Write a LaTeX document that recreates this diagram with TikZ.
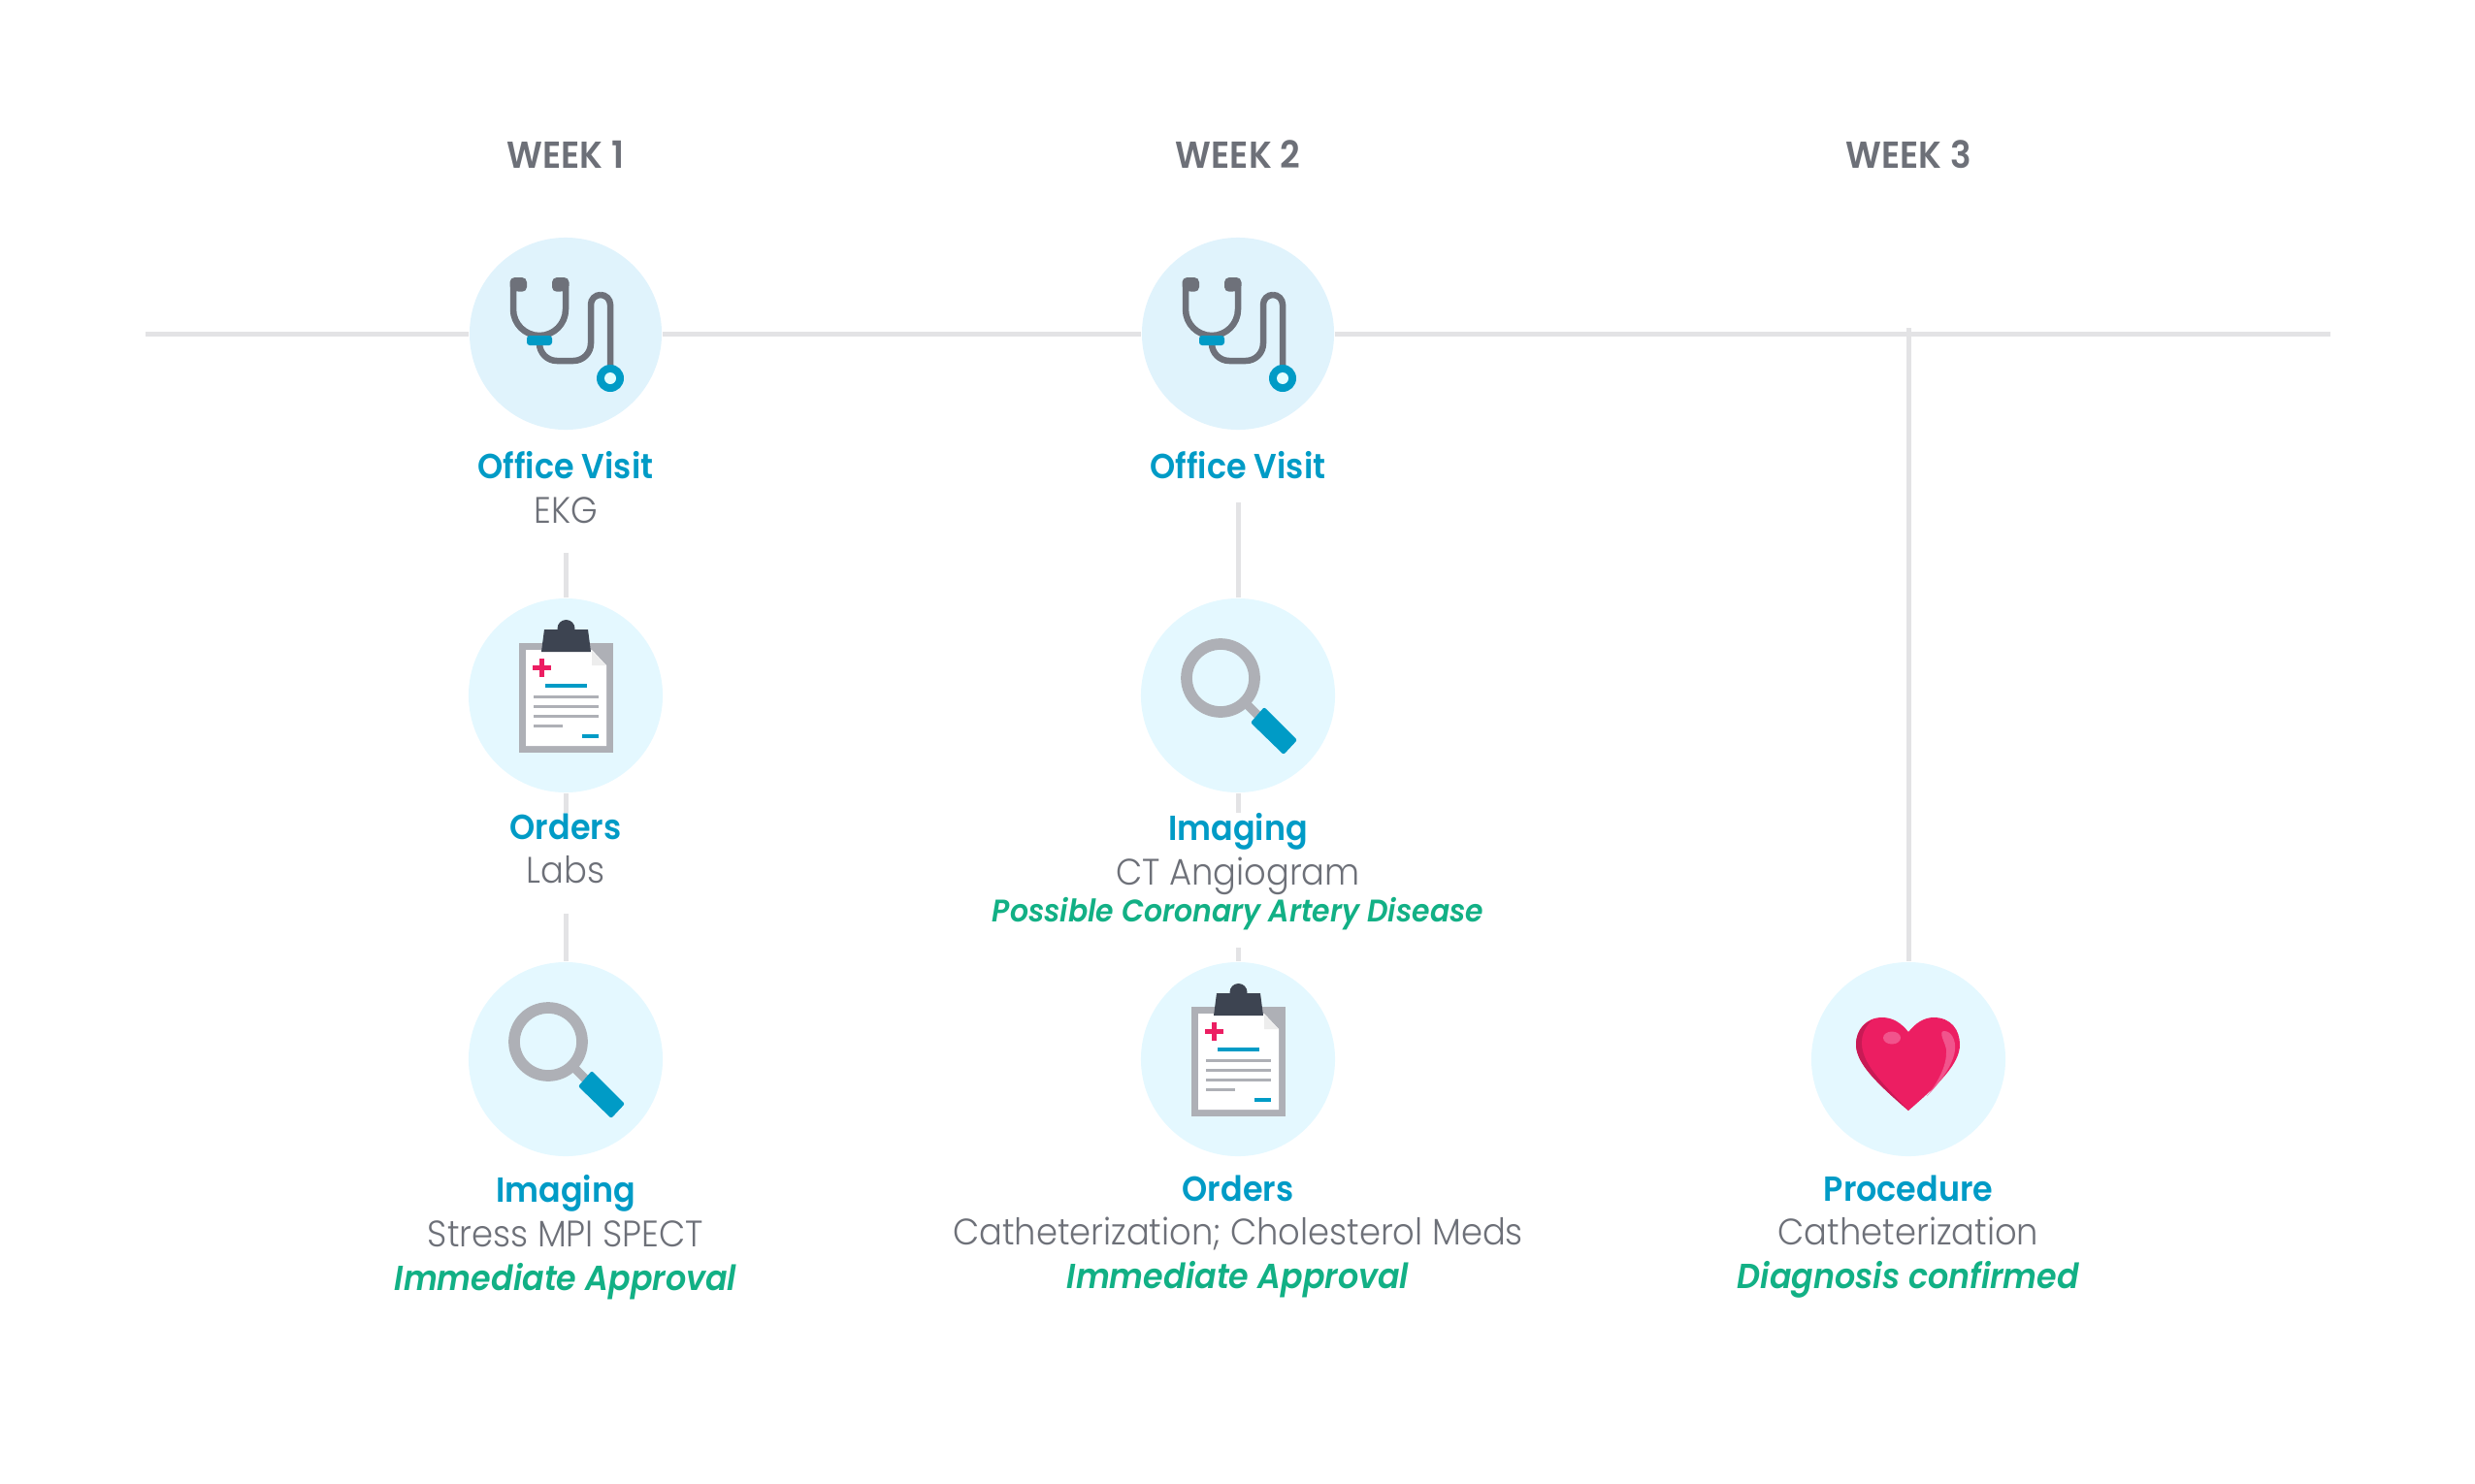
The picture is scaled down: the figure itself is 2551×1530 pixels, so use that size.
\documentclass[tikz,border=0pt]{standalone}
\usepackage{fontspec}
\setmainfont{Poppins Light}[FakeStretch=0.93]
\newfontfamily\headfont{Poppins SemiBold}[FakeStretch=0.93]
\newfontfamily\notefont{Poppins SemiBold}[FakeStretch=0.93,ItalicFont={Poppins SemiBold Italic}]
\definecolor{railgrey}{RGB}{227,227,229}
\definecolor{softblue}{RGB}{224,243,252}
\definecolor{paleblue}{RGB}{228,248,255}
\definecolor{mainblue}{RGB}{0,155,198}
\definecolor{textgrey}{RGB}{109,112,120}
\definecolor{notegreen}{RGB}{18,176,133}
\definecolor{tubegrey}{RGB}{110,113,122}
\definecolor{boardgrey}{RGB}{174,176,182}
\definecolor{clipdark}{RGB}{61,68,81}
\definecolor{heartpink}{RGB}{236,30,98}
\definecolor{heartdark}{RGB}{200,26,85}
\definecolor{heartglow}{RGB}{241,84,140}
\newcommand{\headline}[1]{{\fontsize{10.2pt}{12.9pt}\selectfont\headfont\color{mainblue}\vphantom{d}#1}}
\newcommand{\subline}[1]{{\fontsize{10.8pt}{12.9pt}\selectfont\color{textgrey}#1}}
\newcommand{\noteline}[1]{{\fontsize{10.2pt}{12.9pt}\selectfont\notefont\itshape\color{notegreen}#1}}
\newcommand{\smallnote}[1]{{\fontsize{9.15pt}{12.9pt}\selectfont\notefont\itshape\color{notegreen}#1}}
\begin{document}
\begin{tikzpicture}[
    x=0.01cm, y=-0.01cm,
    rail/.style={draw=railgrey, line width=0.05cm},
    disc/.style={circle, fill=paleblue, minimum size=2cm, inner sep=0pt},
    visitdisc/.style={disc, fill=softblue, minimum size=1.98cm},
    caption/.style={anchor=north, align=center, inner sep=0pt, font=\fontsize{10.2pt}{12.9pt}\selectfont},
    weeklabel/.style={font=\fontsize{11pt}{13pt}\selectfont\headfont, text=textgrey},
    tube/.style={draw=tubegrey, line width=0.065cm},
    stetho/.pic={
        \draw[tube, rounded corners=0.27cm] (-54,-48) -- (-54,2) -- (0,2) -- (0,-48);
        \fill[tubegrey, rounded corners=0.05cm] (-57.5,-44) -- (-57.5,-58) -- (-40,-58) -- (-40,-43) -- cycle;
        \fill[tubegrey, rounded corners=0.05cm] (3.5,-44) -- (3.5,-58) -- (-14,-58) -- (-14,-43) -- cycle;
        \draw[tube, rounded corners=0.18cm] (-27,8) -- (-27,28) -- (26,28) -- (26,-10)
            [rounded corners=0.1cm] -- (26,-40) -- (46,-40) -- (46,40);
        \fill[mainblue, rounded corners=0.03cm] (-40,2) -- (-14,2) -- (-14,12) -- (-40,12) -- cycle;
        \fill[mainblue] (46,46) circle[radius=14];
        \fill[paleblue!70!cyan!30] (46,46) circle[radius=6];
    },
    clipboard/.pic={
        \fill[boardgrey] (-48,-54) rectangle (49,59);
        \fill[white] (-41,-47) -- (27,-47) -- (42,-31) -- (42,52) -- (-41,52) -- cycle;
        \fill[black!7] (27,-46) -- (42,-31) -- (27,-31) -- cycle;
        \fill[clipdark] (-22,-68) -- (23,-68) -- (26,-45) -- (-25,-45) -- cycle;
        \fill[clipdark] (0.5,-69) circle[radius=9];
        \fill[heartpink] (-34.5,-31.5) rectangle (-15.5,-26.5);
        \fill[heartpink] (-27.5,-38.5) rectangle (-22.5,-19.5);
        \fill[mainblue] (-21,-11.7) rectangle (22,-8.3);
        \fill[boardgrey] (-33,-0.5) rectangle (34,2.5);
        \fill[boardgrey] (-33,9.5) rectangle (34,12.5);
        \fill[boardgrey] (-33,19.5) rectangle (34,22.5);
        \fill[boardgrey] (-33,29.5) rectangle (-3,32.5);
        \fill[mainblue] (17,40.3) rectangle (34,43.7);
    },
    lens/.pic={
        \draw[boardgrey, line width=0.09cm] (10,10) -- (22,22);
        \draw[boardgrey, line width=0.117cm] (-18,-18) circle[radius=35];
        \fill[mainblue, rounded corners=0.02cm] (27,12) -- (61,46) -- (47,61) -- (13,28) -- cycle;
    },
    heart/.pic={
        \fill[heartpink] (0,-28) .. controls (-7,-37) and (-16,-43) .. (-27,-43)
            .. controls (-44,-43) and (-54,-30) .. (-54,-15)
            .. controls (-54,5) and (-30,27) .. (0,53)
            .. controls (30,27) and (53,5) .. (53,-15)
            .. controls (53,-30) and (44,-43) .. (26,-43)
            .. controls (16,-43) and (7,-37) .. (0,-28) -- cycle;
        \fill[heartdark] (-38,-40) .. controls (-48,-36) and (-54,-27) .. (-54,-15)
            .. controls (-54,5) and (-30,27) .. (0,53)
            .. controls (-24,27) and (-46,8) .. (-48,-14)
            .. controls (-49,-24) and (-45,-33) .. (-38,-40) -- cycle;
        \fill[heartglow] (37,-29) .. controls (44,-29) and (49,-20) .. (48,-10)
            .. controls (47,5) and (32,25) .. (19,38)
            .. controls (32,22) and (40,5) .. (39,-10)
            .. controls (38,-17) and (30,-29) .. (37,-29) -- cycle;
        \fill[heartglow] (-17,-22) ellipse[x radius=9, y radius=6.5];
    }
]
\useasboundingbox (0,0) rectangle (2551,1530);

% ============================================================
% WEEK HEADINGS
% ============================================================

\node[weeklabel] (weekone) at (583,159) {WEEK 1};
\node[weeklabel] (weektwo) at (1276,159) {WEEK 2};
\node[weeklabel] (weekthree) at (1967,159) {WEEK 3};

% ============================================================
% DISCS
% ============================================================

\node[visitdisc] (visitone) at (583,344) {};
\node[disc] (ordersone) at (583,717) {};
\node[disc] (imagingone) at (583,1092) {};

\node[visitdisc] (visittwo) at (1276,344) {};
\node[disc] (imagingtwo) at (1276,717) {};
\node[disc] (orderstwo) at (1276,1092) {};

\node[disc] (procedure) at (1967,1092) {};

% ============================================================
% CAPTIONS
% ============================================================

\node[caption] (visitonetext) at (583,465)
{\headline{Office Visit}\\\subline{EKG}};
\node[caption] (ordersonetext) at (583,838)
{\headline{Orders}\\\subline{Labs}};
\node[caption] (imagingonetext) at (583,1211)
{\headline{Imaging}\\\subline{Stress MPI SPECT}\\\noteline{Immediate Approval}};

\node[caption] (visittwotext) at (1276,465)
{\headline{Office Visit}};
\node[caption] (imagingtwotext) at (1276,838)
{\headline{Imaging}\\\subline{CT Angiogram}\\[-1.9pt]\smallnote{Possible Coronary Artery Disease}};
\node[caption] (orderstwotext) at (1276,1211)
{\headline{Orders}\\\subline{Catheterization; Cholesterol Meds}\\\noteline{Immediate Approval}};

\node[caption] (proceduretext) at (1967,1211)
{\headline{Procedure}\\\subline{Catheterization}\\\noteline{Diagnosis confirmed}};

% ============================================================
% RAIL AND CONNECTORS
% ============================================================

\coordinate (railstart) at (150,344);
\coordinate (railend) at (2402,344);
\coordinate (railjoint) at (1967,338);

\draw[rail] (railstart) -- (visitone);
\draw[rail] (visitone) -- (visittwo);
\draw[rail] (visittwo) -- (railend);
\draw[rail] (railjoint) -- (procedure);

\draw[rail, shorten <=0.3cm] (visitonetext) -- (ordersone);
\draw[rail] (ordersone) -- (ordersonetext);
\draw[rail, shorten <=0.3cm] (ordersonetext) -- (imagingone);

\draw[rail, shorten <=0.23cm] (visittwotext) -- (imagingtwo);
\draw[rail] (imagingtwo) -- (imagingtwotext);
\draw[rail, shorten <=0.17cm] (imagingtwotext) -- (orderstwo);

% ============================================================
% ICONS
% ============================================================

\pic at (visitone) {stetho};
\pic at (ordersone) {clipboard};
\pic at (imagingone) {lens};
\pic at (visittwo) {stetho};
\pic at (imagingtwo) {lens};
\pic at (orderstwo) {clipboard};
\pic at (procedure) {heart};

\end{tikzpicture}
\end{document}
